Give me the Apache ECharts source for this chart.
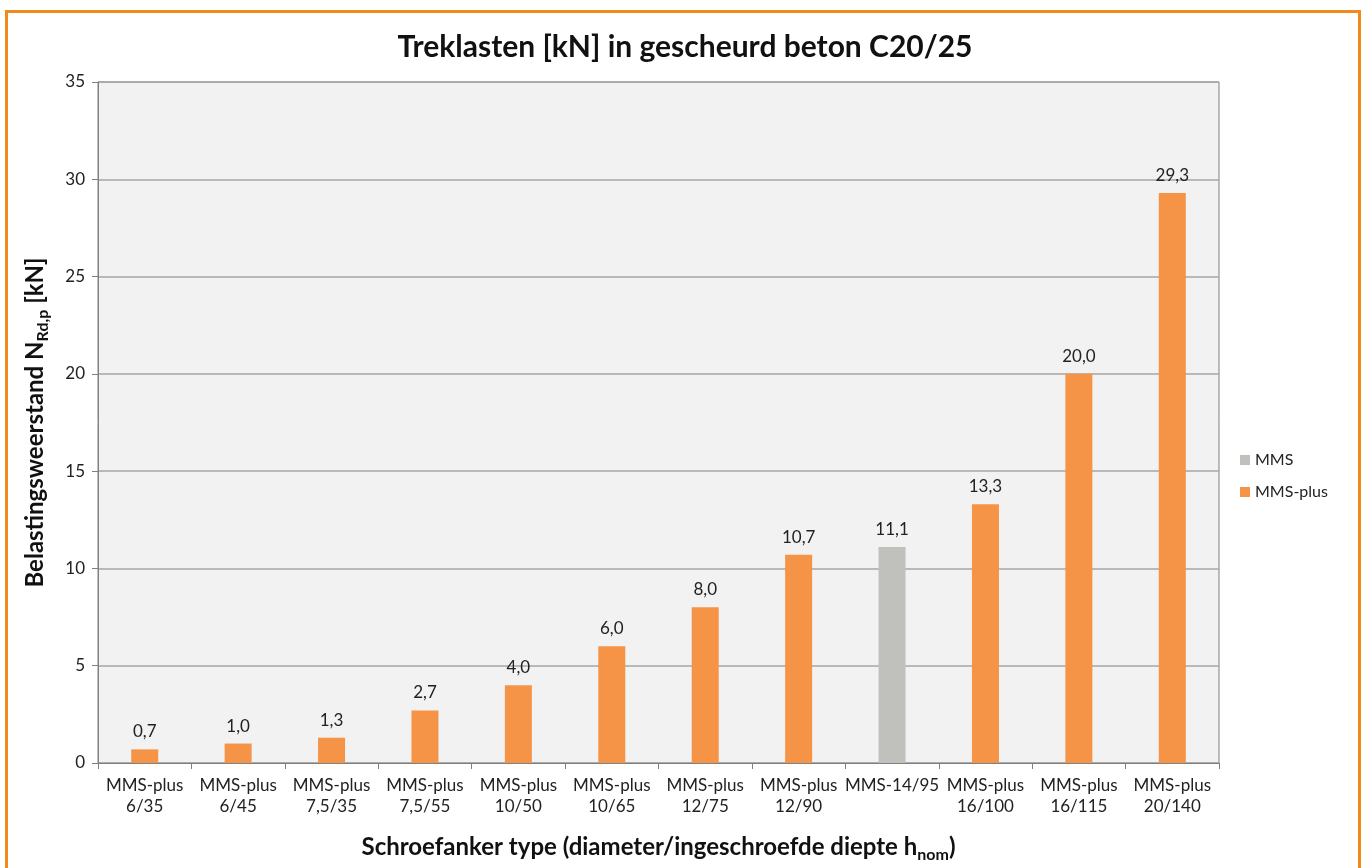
<!DOCTYPE html>
<html>
<head>
<meta charset="utf-8">
<script src="https://cdn.jsdelivr.net/npm/echarts@6/dist/echarts.min.js"></script>
<style>
  html, body { margin: 0; padding: 0; background: #fff; }
  #frame {
    position: absolute; left: 5px; top: 10px; width: 1356px; height: 870px;
    border: 3px solid #f08a1c; box-sizing: border-box;
  }
  #main { position: absolute; left: 0; top: 0; width: 1368px; height: 868px; }
</style>
</head>
<body>
<div id="frame"></div>
<div id="main"></div>
<script>
// categorieen en waarden
const categories = [
  "MMS-plus\n6/35", "MMS-plus\n6/45", "MMS-plus\n7,5/35", "MMS-plus\n7,5/55",
  "MMS-plus\n10/50", "MMS-plus\n10/65", "MMS-plus\n12/75", "MMS-plus\n12/90",
  "MMS-14/95", "MMS-plus\n16/100", "MMS-plus\n16/115", "MMS-plus\n20/140"
];
const mmsValues = ["-", "-", "-", "-", "-", "-", "-", "-", 11.1, "-", "-", "-"];
const mmsPlusValues = [0.7, 1.0, 1.3, 2.7, 4.0, 6.0, 8.0, 10.7, "-", 13.3, 20.0, 29.3];
const yTicks = [0, 5, 10, 15, 20, 25, 30, 35];

const font = "Lato, 'Noto Sans', sans-serif";
let chart = echarts.init(document.getElementById("main"));

function fmt(p) {
  return p.value.toFixed(1).replace(".", ",");
}

chart.setOption({
  textStyle: { fontFamily: font },
  title: {
    text: "Treklasten [kN] in gescheurd beton C20/25",
    left: 680, top: 27, textAlign: "center",
    textStyle: { fontSize: 30, fontWeight: "bold", color: "#111", fontFamily: font }
  },
  grid: { left: 98, right: 149, top: 82, bottom: 104, show: true,
          backgroundColor: "#f2f2f2", borderColor: "#808080", borderWidth: 1 },
  legend: {
    orient: "vertical", left: 1235, top: 447, itemGap: 16,
    itemWidth: 10, itemHeight: 10, icon: "rect",
    textStyle: { fontSize: 16, color: "#222", fontFamily: font },
    data: ["MMS", "MMS-plus"]
  },
  xAxis: {
    type: "category",
    data: categories,
    name: "{a|Schroefanker type (diameter/ingeschroefde diepte h}{s|nom}{a|)}",
    nameLocation: "middle", nameGap: 68,
    nameTextStyle: { rich: {
      a: { fontSize: 24, fontWeight: "bold", color: "#111", fontFamily: font },
      s: { fontSize: 16, fontWeight: "bold", color: "#111", fontFamily: font, padding: [16, 0, 0, 0] }
    } },
    axisLine: { lineStyle: { color: "#808080" } },
    axisTick: { show: true, length: 6, lineStyle: { color: "#808080" } },
    axisLabel: { fontSize: 17, color: "#222", lineHeight: 21, margin: 12, interval: 0 }
  },
  yAxis: {
    type: "value", min: yTicks[0], max: yTicks[yTicks.length - 1], interval: 5,
    name: "{a|Belastingsweerstand N}{s|Rd,p}{a| [kN]}",
    nameLocation: "middle", nameGap: 47, nameRotate: 90,
    nameTextStyle: { rich: {
      a: { fontSize: 24, fontWeight: "bold", color: "#111", fontFamily: font },
      s: { fontSize: 16, fontWeight: "bold", color: "#111", fontFamily: font, padding: [16, 0, 0, 0] }
    } },
    axisLine: { show: true, lineStyle: { color: "#808080" } },
    axisTick: { show: true, length: 6, lineStyle: { color: "#808080" } },
    axisLabel: { fontSize: 17, color: "#222", margin: 13 },
    splitLine: { lineStyle: { color: "#a6a6a6", width: 1.5 } }
  },
  series: [
    {
      name: "MMS", type: "bar", stack: "t", barWidth: 27,
      itemStyle: { color: "#c0c0bc" },
      label: { show: true, position: "top", fontSize: 17, color: "#222", distance: 9, formatter: fmt },
      data: mmsValues
    },
    {
      name: "MMS-plus", type: "bar", stack: "t", barWidth: 27,
      itemStyle: { color: "#f59447" },
      label: { show: true, position: "top", fontSize: 17, color: "#222", distance: 9, formatter: fmt },
      data: mmsPlusValues
    }
  ]
});
</script>
</body>
</html>
